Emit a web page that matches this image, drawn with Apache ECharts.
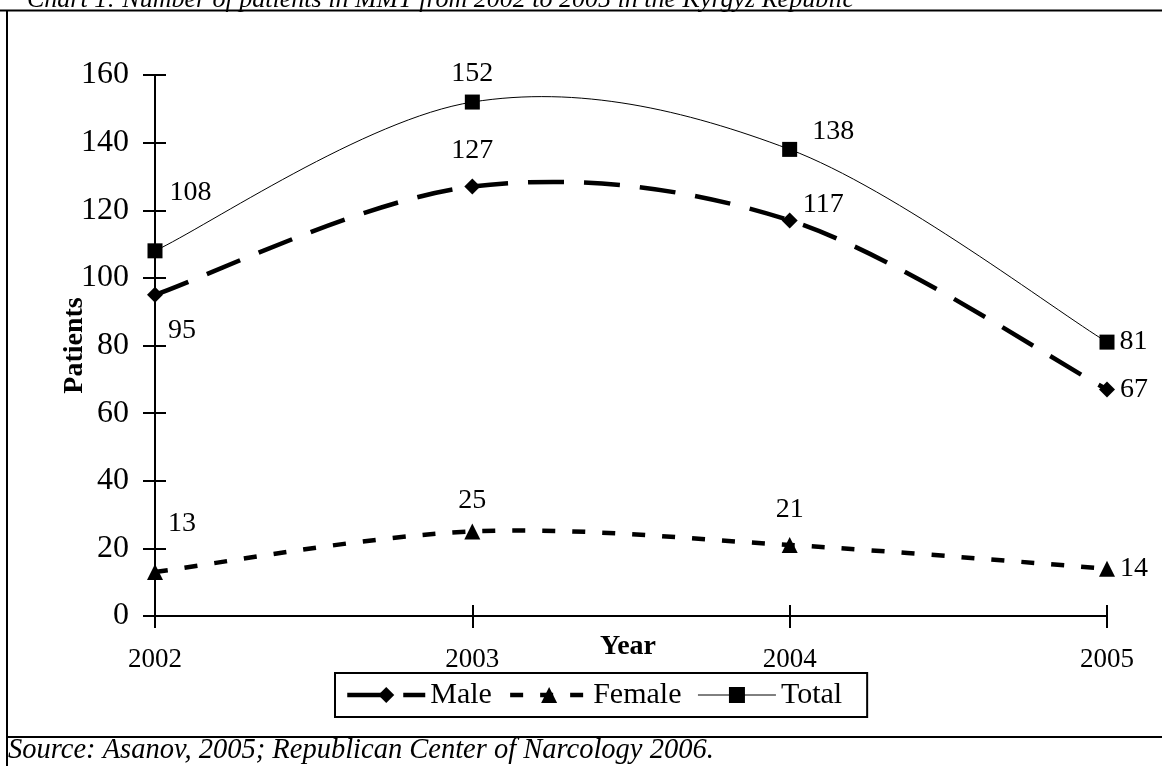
<!DOCTYPE html>
<html><head><meta charset="utf-8">
<script src="https://cdn.jsdelivr.net/npm/echarts@6/dist/echarts.min.js"></script>
<style>html,body{margin:0;padding:0;background:#fff}#c{width:1162px;height:766px}</style>
</head><body><div id="c"></div>
<script>
const years = ['2002','2003','2004','2005'];
const male = [95,127,117,67];
const female = [13,25,21,14];
const total = [108,152,138,81];
const yTicks = [0,20,40,60,80,100,120,140,160];
const titleText = 'Chart 1: Number of patients in MMT from 2002 to 2005 in the Kyrgyz Republic';
const sourceText = 'Source: Asanov, 2005; Republican Center of Narcology 2006.';

const F = 'Liberation Serif';
const lbl = {fontFamily:F,fontSize:28,color:'#000'};
function items(vals, pos){
  return vals.map((v,i)=>({value:v,label:Object.assign({show:true},lbl,pos[i])}));
}
const totalPos=[{position:'right',offset:[2,-58]},{position:'top',offset:[0,-2]},{position:'right',offset:[10,-18]},{position:'right',offset:[0,0]}];
const malePos=[{position:'right',offset:[0,36]},{position:'top',offset:[0,-9]},{position:'right',offset:[0,-16]},{position:'right',offset:[0,0]}];
const femalePos=[{position:'right',offset:[0,-48]},{position:'top',offset:[0,-4]},{position:'top',offset:[0,-8]},{position:'right',offset:[0,0]}];

const maleLine = {width:4.5,type:[36,20]};
const femaleLine = {width:4.5,type:[13,17]};
const totalLine = {width:1,type:'solid'};

// smooth curve (Excel-like cardinal bezier) through the data, via the axis scales
function curve(vals, ls){
  return function(params, api){
    const p = vals.map((v,i)=>api.coord([i,v]));
    const n = p.length, k = 1/6;
    let d = 'M' + p[0][0] + ' ' + p[0][1];
    for(let i=0;i<n-1;i++){
      const p0 = p[Math.max(i-1,0)], p1 = p[i], p2 = p[i+1], p3 = p[Math.min(i+2,n-1)];
      const c1x = p1[0] + (p2[0]-p0[0])*k, c1y = p1[1] + (p2[1]-p0[1])*k;
      const c2x = p2[0] - (p3[0]-p1[0])*k, c2y = p2[1] - (p3[1]-p1[1])*k;
      d += ' C' + c1x + ' ' + c1y + ' ' + c2x + ' ' + c2y + ' ' + p2[0] + ' ' + p2[1];
    }
    return {type:'path',silent:true,shape:{pathData:d},
      style:{fill:'none',stroke:'#000',lineWidth:ls.width,lineDash:Array.isArray(ls.type)?ls.type:null}};
  };
}

const chart = echarts.init(document.getElementById('c'),null,{renderer:'canvas'});
chart.setOption({
  animation:false,
  backgroundColor:'#fff',
  grid:{left:155,right:55,top:75,bottom:150},
  xAxis:[{type:'category',data:years,boundaryGap:false,
    axisLine:{lineStyle:{color:'#000',width:2}},
    axisTick:{show:true,length:12,lineStyle:{color:'#000',width:2}},
    axisLabel:{fontFamily:F,fontSize:27,color:'#000',margin:30},
    name:'Year',nameLocation:'middle',nameGap:17,nameMoveOverlap:false,
    nameTextStyle:{fontFamily:F,fontSize:28,fontWeight:'bold',color:'#000',padding:[0,6,0,0]}},
   {type:'category',data:years,boundaryGap:false,position:'bottom',
    axisLine:{show:false},axisTick:{show:true,inside:true,length:11,lineStyle:{color:'#000',width:2}},
    axisLabel:{show:false}}],
  yAxis:[{type:'value',min:0,max:160,interval:20,
    axisLine:{show:true,lineStyle:{color:'#000',width:2}},
    axisTick:{show:true,length:12,lineStyle:{color:'#000',width:2}},
    splitLine:{show:false},
    axisLabel:{fontFamily:F,fontSize:32,color:'#000',margin:26},
    name:'Patients',nameLocation:'middle',nameGap:66,nameRotate:90,nameMoveOverlap:false,
    nameTextStyle:{fontFamily:F,fontSize:28,fontWeight:'bold',color:'#000'}},
   {type:'value',min:0,max:160,interval:20,position:'left',
    axisLine:{show:false},axisTick:{show:true,inside:true,length:11,lineStyle:{color:'#000',width:2}},
    axisLabel:{show:false},splitLine:{show:false}}],
  legend:{show:true,left:335,top:673,
    borderColor:'#000',borderWidth:2,padding:[7,25,7,10],itemGap:16,
    itemWidth:78,itemHeight:20,
    textStyle:{fontFamily:F,fontSize:30,color:'#000'},
    data:[
      {name:'Male',lineStyle:{color:'#000',opacity:1,width:maleLine.width,type:maleLine.type}},
      {name:'Female',lineStyle:{color:'#000',opacity:1,width:femaleLine.width,type:femaleLine.type}},
      {name:'Total',lineStyle:{color:'#000',opacity:1,width:totalLine.width,type:totalLine.type}}
    ]},
  series:[
    {name:'maleCurve',type:'custom',z:1,data:[[0,0]],renderItem:curve(male,maleLine)},
    {name:'femaleCurve',type:'custom',z:1,data:[[0,0]],renderItem:curve(female,femaleLine)},
    {name:'totalCurve',type:'custom',z:1,data:[[0,0]],renderItem:curve(total,totalLine)},
    {name:'Male',type:'line',z:3,data:items(male,malePos),
     symbol:'diamond',symbolSize:16,itemStyle:{color:'#000'},
     lineStyle:{color:'#000',width:maleLine.width,type:maleLine.type,opacity:0}},
    {name:'Female',type:'line',z:3,data:items(female,femalePos),
     symbol:'triangle',symbolSize:16,itemStyle:{color:'#000'},
     lineStyle:{color:'#000',width:femaleLine.width,type:femaleLine.type,opacity:0}},
    {name:'Total',type:'line',z:3,data:items(total,totalPos),
     symbol:'rect',symbolSize:15,itemStyle:{color:'#000'},
     lineStyle:{color:'#000',width:totalLine.width,opacity:0}}
  ],
  graphic:[
    {type:'line',shape:{x1:0,y1:10.5,x2:1162,y2:10.5},style:{stroke:'#000',lineWidth:2}},
    {type:'line',shape:{x1:7,y1:10,x2:7,y2:766},style:{stroke:'#000',lineWidth:2}},
    {type:'line',shape:{x1:7,y1:737,x2:1162,y2:737},style:{stroke:'#000',lineWidth:2}},
    {type:'text',left:27,top:-13,style:{text:titleText,font:'italic 26px "Liberation Serif"',fill:'#000'}},
    {type:'text',left:8,top:736,style:{text:sourceText,font:'italic 28.5px "Liberation Serif"',fill:'#000'}}
  ]
});
</script></body></html>
